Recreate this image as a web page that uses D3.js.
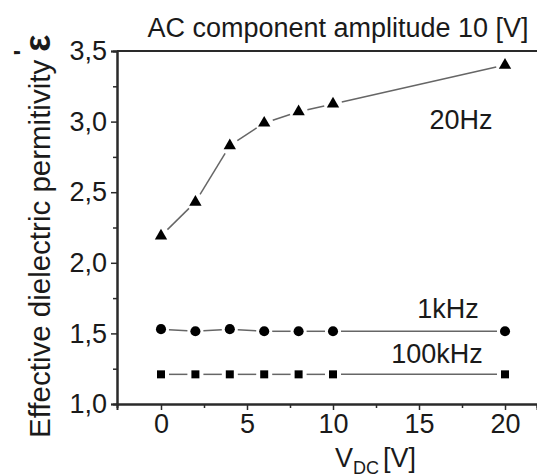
<!DOCTYPE html>
<html>
<head>
<meta charset="utf-8">
<script src="https://cdn.jsdelivr.net/npm/d3@7"></script>
<style>
  html, body { margin: 0; padding: 0; background: #fff; }
  svg text { font-family: "Liberation Sans", Arial, sans-serif; fill: #1a1a1a; }
</style>
</head>
<body>
<div id="chart-wrapper"></div>
<script>
const vdc = [0, 2, 4, 6, 8, 10, 20];
const eps20Hz = [2.19, 2.43, 2.83, 2.99, 3.07, 3.125, 3.40];
const eps1kHz = [1.53, 1.515, 1.53, 1.515, 1.515, 1.515, 1.515];
const eps100kHz = [1.21, 1.21, 1.21, 1.21, 1.21, 1.21, 1.21];
const xTicks = [0, 5, 10, 15, 20];
const xMinor = [2.5, 7.5, 12.5, 17.5];
const yTicks = [1.0, 1.5, 2.0, 2.5, 3.0, 3.5];
const yMinor = [1.25, 1.75, 2.25, 2.75, 3.25];
const seriesNames = ["20Hz", "1kHz", "100kHz"];

const width = 537, height = 475;
const plotLeft = 117, plotTop = 51, plotBottom = 404;

const svg = d3.select("#chart-wrapper").append("svg")
      .attr("width", width)
      .attr("height", height);

const x = d3.scaleLinear().domain([-2.558, 21.86]).range([plotLeft, width]);
const y = d3.scaleLinear().domain([1, 3.5]).range([plotBottom, plotTop]);

const fmt = d => d3.format(".1f")(d).replace(".", ",");

// axes
svg.append("g").attr("transform", "translate(0," + plotBottom + ")")
      .call(d3.axisBottom(x).tickValues(xTicks).tickSize(6).tickPadding(4).tickFormat(d3.format("d")));
svg.append("g").attr("transform", "translate(0," + plotBottom + ")")
      .call(d3.axisBottom(x).tickValues(xMinor).tickSize(4).tickFormat(""));
svg.append("g").attr("transform", "translate(" + plotLeft + ",0)")
      .call(d3.axisLeft(y).tickValues(yTicks).tickSize(6).tickPadding(4).tickFormat(fmt));
svg.append("g").attr("transform", "translate(" + plotLeft + ",0)")
      .call(d3.axisLeft(y).tickValues(yMinor).tickSize(4).tickFormat(""));

svg.selectAll(".domain").attr("stroke", "#2a2a2a").attr("stroke-width", 2);
svg.selectAll(".tick line").attr("stroke", "#2a2a2a").attr("stroke-width", 1.5);
svg.selectAll(".tick text").style("font-size", "27px").attr("fill", "#1a1a1a");

// top frame
svg.append("line")
      .attr("x1", x(-2.558)).attr("x2", width)
      .attr("y1", y(3.5)).attr("y2", y(3.5))
      .attr("stroke", "#2a2a2a").attr("stroke-width", 2);

// series: lines with gaps around markers
function drawSeries(vals, shape, size, gap) {
      const pts = vdc.map((v, i) => [x(v), y(vals[i])]);
      const g = svg.append("g");
      for (let i = 0; i < pts.length - 1; i++) {
            const [x1, y1] = pts[i], [x2, y2] = pts[i + 1];
            const len = Math.hypot(x2 - x1, y2 - y1);
            if (len <= 2 * gap) continue;
            const ux = (x2 - x1) / len, uy = (y2 - y1) / len;
            g.append("line")
                  .attr("x1", x1 + ux * gap).attr("y1", y1 + uy * gap)
                  .attr("x2", x2 - ux * gap).attr("y2", y2 - uy * gap)
                  .attr("stroke", "#666").attr("stroke-width", 1.5);
      }
      g.selectAll("path.m").data(pts).enter().append("path")
            .attr("class", "m")
            .attr("transform", d => "translate(" + d[0] + "," + d[1] + ")")
            .attr("d", d3.symbol().type(shape).size(size))
            .attr("fill", "#000");
}
drawSeries(eps20Hz, d3.symbolTriangle, 66, 9);
drawSeries(eps1kHz, d3.symbolCircle, 80, 8);
drawSeries(eps100kHz, d3.symbolSquare, 64, 8);

// series labels
const labelPos = [[461, 129], [448, 318], [437, 363]];
svg.selectAll("text.series").data(seriesNames).enter().append("text")
      .attr("class", "series")
      .attr("x", (d, i) => labelPos[i][0])
      .attr("y", (d, i) => labelPos[i][1])
      .attr("text-anchor", "middle")
      .style("font-size", "27px")
      .text(d => d);

// title
svg.append("text")
      .attr("x", 338).attr("y", 37)
      .attr("text-anchor", "middle")
      .style("font-size", "27px")
      .text("AC component amplitude 10 [V]");

// y label
const yl = svg.append("text")
      .attr("transform", "translate(50,438) rotate(-90)")
      .style("font-size", "29.5px");
yl.append("tspan").text("Effective dielectric permitivity ");
yl.append("tspan").style("font-weight", "bold").style("font-size", "36px").text("ε");
yl.append("tspan").attr("dy", -19).attr("dx", -21).style("font-weight", "bold").style("font-size", "24px").text("'");

// x label
const xl = svg.append("text")
      .attr("x", 335).attr("y", 467)
      .style("font-size", "27px");
xl.append("tspan").text("V");
xl.append("tspan").attr("dy", 7).style("font-size", "18px").text("DC");
xl.append("tspan").attr("dy", -7).attr("dx", 4).text("[V]");
</script>
</body>
</html>
